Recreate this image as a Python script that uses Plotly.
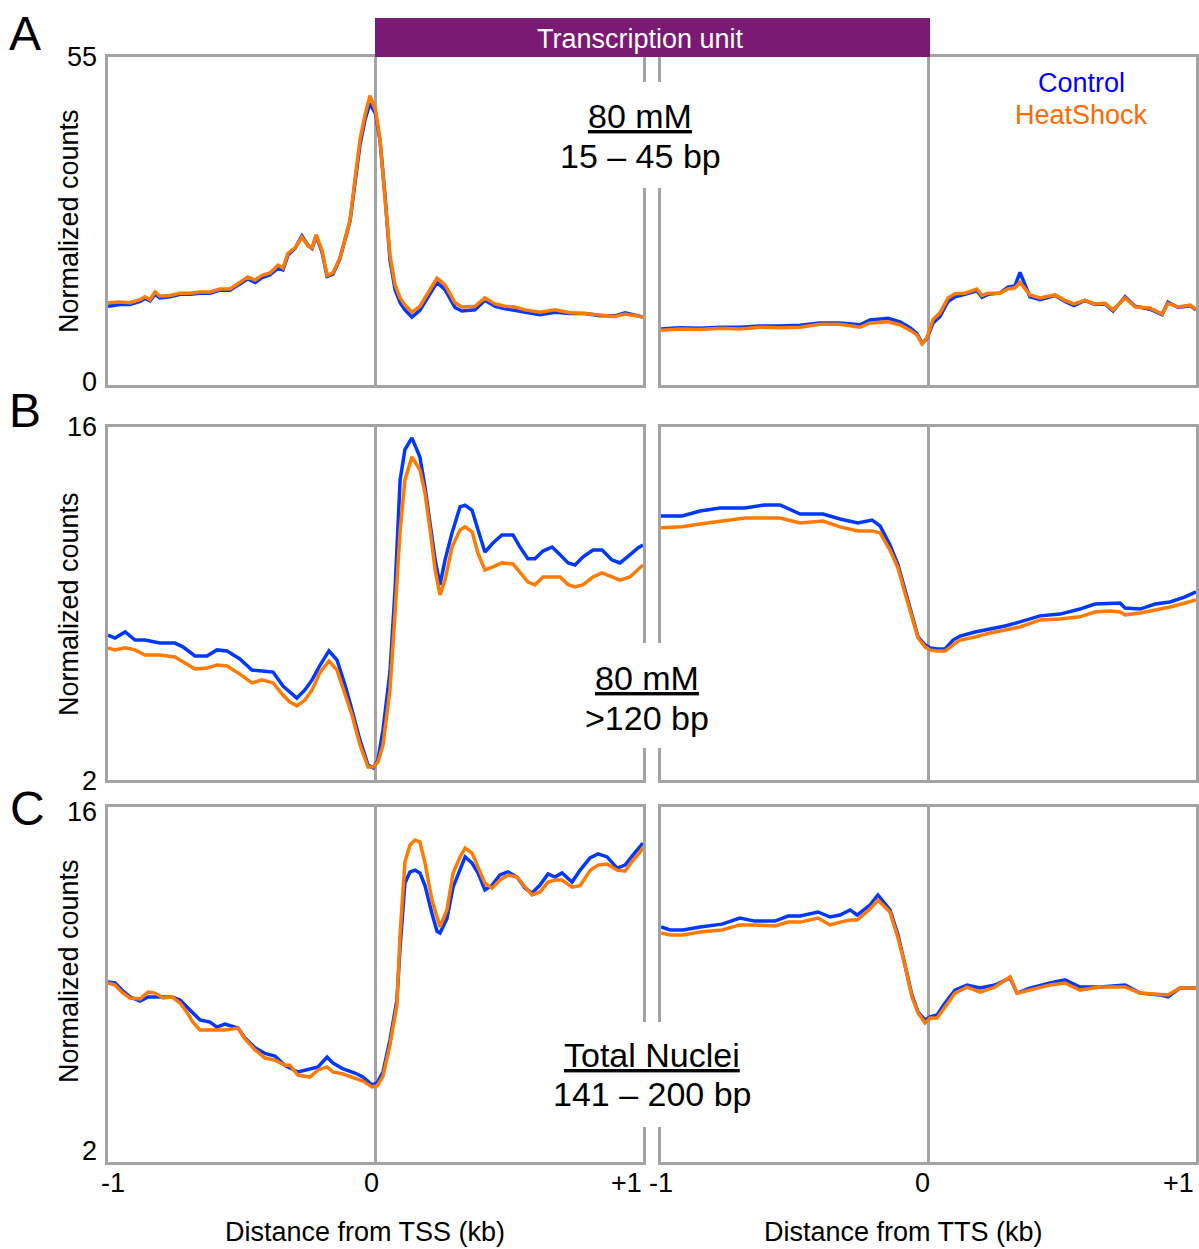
import plotly.graph_objects as go

# ---------------- data (kb from TSS/TTS, normalized counts) ----------------
x_A_tss = [-1.0, -0.955, -0.918, -0.88, -0.862, -0.843, -0.824, -0.806, -0.768, -0.73,
           -0.693, -0.656, -0.619, -0.581, -0.544, -0.507, -0.477, -0.45, -0.424, -0.394,
           -0.364, -0.346, -0.327, -0.301, -0.275, -0.252, -0.237, -0.222, -0.2, -0.181,
           -0.159, -0.133, -0.114, -0.095, -0.077, -0.058, -0.039, -0.021, 0.0, 0.017,
           0.036, 0.054, 0.073, 0.092, 0.11, 0.136, 0.166, 0.204, 0.23, 0.26,
           0.297, 0.323, 0.372, 0.409, 0.447, 0.484, 0.521, 0.559, 0.615, 0.671,
           0.727, 0.783, 0.839, 0.895, 0.933, 1.0]
A_tss_control = [13.2, 13.5, 13.5, 14.0, 14.5, 14.1, 15.2, 14.6, 14.8, 15.2,
                 15.2, 15.4, 15.4, 15.9, 15.9, 17.0, 17.8, 17.2, 18.0, 18.5,
                 19.6, 19.3, 21.8, 22.9, 25.0, 23.4, 22.9, 25.0, 22.3, 18.2,
                 18.6, 21.2, 24.2, 27.5, 33.8, 40.3, 44.5, 47.2, 45.5, 41.0,
                 31.5, 21.0, 16.0, 13.8, 12.6, 11.4, 12.5, 15.2, 17.2, 16.0,
                 13.0, 12.4, 12.6, 14.2, 13.2, 12.8, 12.5, 12.2, 11.8, 12.2,
                 12.0, 12.0, 11.6, 11.6, 12.1, 11.4]
A_tss_heat = [13.8, 13.9, 13.8, 14.3, 14.8, 14.3, 15.6, 14.9, 15.0, 15.4,
              15.4, 15.6, 15.6, 16.1, 16.1, 17.3, 18.1, 17.6, 18.4, 18.8,
              20.1, 19.6, 22.1, 23.0, 24.8, 23.3, 23.0, 25.2, 22.6, 18.4,
              18.8, 21.3, 24.3, 27.7, 34.4, 41.1, 45.3, 48.5, 46.1, 41.1,
              31.0, 21.8, 16.8, 14.6, 13.4, 12.2, 13.2, 15.9, 17.9, 16.8,
              13.8, 13.1, 13.2, 14.6, 13.6, 13.2, 13.1, 12.6, 12.2, 12.6,
              12.1, 12.0, 11.7, 11.5, 11.9, 11.4]

x_A_tts = [-1.0, -0.929, -0.854, -0.779, -0.705, -0.63, -0.555, -0.48, -0.406, -0.331,
           -0.256, -0.219, -0.151, -0.107, -0.069, -0.043, -0.024, -0.006, 0.017, 0.043,
           0.073, 0.099, 0.136, 0.181, 0.2, 0.222, 0.267, 0.297, 0.323, 0.342,
           0.379, 0.417, 0.473, 0.51, 0.544, 0.585, 0.622, 0.66, 0.69, 0.735,
           0.772, 0.828, 0.873, 0.895, 0.933, 0.978, 1.0]
A_tts_control = [9.4, 9.6, 9.5, 9.7, 9.7, 9.9, 9.9, 10.0, 10.4, 10.4,
                 10.1, 10.9, 11.2, 10.6, 9.6, 8.6, 7.0, 7.8, 10.4, 11.5,
                 14.0, 14.8, 15.2, 15.8, 14.7, 15.2, 15.4, 16.4, 16.6, 18.9,
                 14.8, 14.3, 15.0, 14.0, 13.3, 14.2, 13.5, 13.6, 12.4, 14.8,
                 13.2, 12.7, 11.8, 13.9, 13.0, 13.3, 12.6]
A_tts_heat = [9.2, 9.4, 9.3, 9.5, 9.4, 9.7, 9.6, 9.7, 10.2, 10.2,
              9.7, 10.4, 10.6, 10.1, 9.2, 8.4, 6.9, 7.9, 11.0, 12.1,
              14.6, 15.3, 15.4, 16.1, 15.0, 15.4, 15.4, 16.1, 16.3, 17.2,
              15.1, 14.6, 15.1, 14.2, 13.6, 14.2, 13.6, 13.7, 12.6, 14.6,
              13.1, 12.9, 11.9, 13.7, 13.1, 13.4, 12.7]

x_B_tss = [-1.0, -0.974, -0.936, -0.899, -0.862, -0.806, -0.75, -0.72, -0.675, -0.63,
           -0.593, -0.555, -0.507, -0.462, -0.424, -0.383, -0.346, -0.32, -0.294, -0.264,
           -0.237, -0.207, -0.174, -0.144, -0.114, -0.088, -0.058, -0.028, -0.009, 0.009,
           0.028, 0.054, 0.073, 0.092, 0.11, 0.136, 0.166, 0.185, 0.204, 0.223,
           0.241, 0.26, 0.286, 0.316, 0.335, 0.361, 0.383, 0.409, 0.439, 0.473,
           0.514, 0.54, 0.57, 0.596, 0.626, 0.66, 0.69, 0.72, 0.746, 0.776,
           0.813, 0.847, 0.884, 0.914, 0.951, 0.981, 1.0]
B_tss_control = [7.75, 7.63, 7.87, 7.55, 7.55, 7.43, 7.43, 7.28, 6.92, 6.92,
                 7.16, 7.12, 6.80, 6.36, 6.32, 6.28, 5.73, 5.49, 5.25, 5.57,
                 5.97, 6.56, 7.12, 6.76, 5.77, 4.78, 3.58, 2.60, 2.48, 2.79,
                 3.98, 6.28, 9.54, 13.9, 15.1, 15.57, 14.81, 13.62, 12.04, 10.73,
                 9.74, 10.73, 11.8, 12.83, 12.9, 12.7, 11.92, 11.04, 11.40, 11.72,
                 11.72, 11.24, 10.77, 10.77, 11.08, 11.24, 10.93, 10.61, 10.53, 10.85,
                 11.12, 11.12, 10.73, 10.61, 10.93, 11.20, 11.32]
B_tss_heat = [7.24, 7.16, 7.24, 7.16, 6.96, 6.96, 6.88, 6.68, 6.40, 6.44,
              6.56, 6.52, 6.20, 5.85, 5.97, 5.85, 5.37, 5.09, 4.94, 5.17,
              5.57, 6.28, 6.72, 6.36, 5.37, 4.58, 3.39, 2.52, 2.52, 2.71,
              3.39, 5.57, 8.6, 11.9, 13.9, 14.81, 14.30, 13.38, 11.92, 10.33,
              9.34, 9.93, 11.24, 11.92, 12.04, 11.84, 11.0, 10.33, 10.45, 10.61,
              10.57, 10.21, 9.85, 9.74, 10.05, 10.05, 10.05, 9.75, 9.66, 9.75,
              10.05, 10.21, 10.05, 9.93, 10.05, 10.33, 10.53]

x_B_tts = [-1.0, -0.921, -0.854, -0.779, -0.686, -0.611, -0.555, -0.48, -0.394, -0.331,
           -0.264, -0.211, -0.181, -0.144, -0.114, -0.088, -0.058, -0.039, -0.013, 0.006,
           0.032, 0.062, 0.092, 0.118, 0.174, 0.23, 0.286, 0.342, 0.417, 0.492,
           0.566, 0.622, 0.679, 0.716, 0.735, 0.791, 0.847, 0.903, 0.959, 1.0]
B_tts_control = [12.47, 12.47, 12.67, 12.79, 12.79, 12.91, 12.91, 12.55, 12.55, 12.35,
                 12.19, 12.31, 12.08, 11.32, 10.53, 9.54, 8.35, 7.67, 7.36, 7.24,
                 7.20, 7.20, 7.55, 7.71, 7.87, 7.99, 8.11, 8.27, 8.51, 8.58,
                 8.78, 8.98, 9.02, 9.02, 8.82, 8.78, 8.98, 9.06, 9.26, 9.46]
B_tts_heat = [12.0, 12.04, 12.15, 12.27, 12.39, 12.39, 12.39, 12.19, 12.27, 12.04,
              11.88, 11.88, 11.80, 11.12, 10.41, 9.42, 8.27, 7.63, 7.28, 7.16,
              7.12, 7.12, 7.36, 7.55, 7.67, 7.83, 7.95, 8.07, 8.35, 8.39,
              8.47, 8.66, 8.70, 8.66, 8.55, 8.62, 8.74, 8.86, 9.02, 9.14]

x_C_tss = [-1.0, -0.974, -0.948, -0.918, -0.88, -0.85, -0.824, -0.794, -0.761, -0.731,
           -0.705, -0.682, -0.656, -0.619, -0.593, -0.563, -0.514, -0.488, -0.45, -0.413,
           -0.376, -0.338, -0.32, -0.29, -0.245, -0.215, -0.181, -0.159, -0.121, -0.077,
           -0.047, -0.013, 0.006, 0.028, 0.054, 0.080, 0.092, 0.11, 0.129, 0.148,
           0.166, 0.185, 0.211, 0.23, 0.241, 0.267, 0.29, 0.316, 0.335, 0.361,
           0.383, 0.409, 0.436, 0.465, 0.495, 0.529, 0.559, 0.585, 0.615, 0.645,
           0.671, 0.697, 0.735, 0.765, 0.802, 0.832, 0.866, 0.903, 0.933, 0.963,
           0.989, 1.0]
C_tss_control = [9.10, 9.06, 8.78, 8.51, 8.35, 8.51, 8.51, 8.51, 8.51, 8.39,
                 8.10, 7.88, 7.60, 7.52, 7.32, 7.44, 7.28, 6.89, 6.50, 6.28,
                 6.18, 5.80, 5.71, 5.55, 5.67, 5.75, 6.14, 5.90, 5.67, 5.51,
                 5.35, 5.04, 5.12, 5.55, 6.81, 8.39, 10.48, 13.0, 13.44, 13.51,
                 13.40, 12.90, 11.80, 11.10, 11.03, 11.60, 12.84, 13.55, 14.03, 13.79,
                 13.40, 12.73, 12.92, 13.32, 13.44, 13.24, 12.80, 12.61, 12.92, 13.36,
                 13.24, 13.40, 13.04, 13.51, 13.99, 14.15, 14.03, 13.59, 13.71, 14.11,
                 14.42, 14.58]
C_tss_heat = [9.06, 8.98, 8.70, 8.47, 8.43, 8.70, 8.66, 8.47, 8.51, 8.27,
              7.91, 7.50, 7.21, 7.21, 7.21, 7.21, 7.28, 6.85, 6.42, 6.10,
              6.02, 5.82, 5.82, 5.43, 5.35, 5.63, 5.75, 5.55, 5.47, 5.31,
              5.19, 4.96, 5.00, 5.39, 6.61, 8.19, 11.0, 13.83, 14.50, 14.70,
              14.62, 13.79, 12.33, 11.66, 11.27, 11.94, 13.40, 14.03, 14.38, 14.18,
              13.63, 13.00, 12.80, 13.12, 13.32, 13.24, 12.84, 12.53, 12.65, 13.04,
              13.12, 13.12, 12.84, 12.90, 13.50, 13.71, 13.75, 13.51, 13.47, 13.91,
              14.22, 14.42]

x_C_tts = [-1.0, -0.966, -0.918, -0.854, -0.772, -0.705, -0.649, -0.574, -0.525, -0.48,
           -0.413, -0.368, -0.331, -0.293, -0.267, -0.219, -0.189, -0.144, -0.114, -0.088,
           -0.062, -0.039, -0.013, 0.006, 0.032, 0.062, 0.099, 0.144, 0.193, 0.249,
           0.305, 0.331, 0.379, 0.454, 0.51, 0.566, 0.641, 0.735, 0.791, 0.866,
           0.895, 0.940, 1.0]
C_tts_control = [11.27, 11.15, 11.15, 11.27, 11.38, 11.62, 11.50, 11.50, 11.70, 11.70,
                 11.86, 11.66, 11.74, 11.94, 11.74, 12.13, 12.53, 11.94, 10.95, 9.77,
                 8.59, 7.91, 7.60, 7.72, 7.80, 8.27, 8.78, 8.98, 8.86, 8.98,
                 9.26, 8.66, 8.86, 9.06, 9.18, 8.90, 8.90, 8.98, 8.66, 8.59,
                 8.51, 8.86, 8.86]
C_tts_heat = [11.03, 10.95, 10.95, 11.07, 11.15, 11.35, 11.35, 11.31, 11.46, 11.46,
              11.62, 11.35, 11.46, 11.54, 11.54, 11.98, 12.33, 11.86, 10.83, 9.77,
              8.51, 7.88, 7.48, 7.68, 7.68, 8.11, 8.66, 8.90, 8.70, 8.90,
              9.30, 8.66, 8.78, 8.98, 9.06, 8.78, 8.90, 8.90, 8.66, 8.59,
              8.59, 8.86, 8.86]

y_ranges = {"A": [0, 55], "B": [2, 16], "C": [2, 16]}
y_tick_labels = {"A": ["55", "0"], "B": ["16", "2"], "C": ["16", "2"]}
x_tick_labels = ["-1", "0", "+1"]
series_names = ["Control", "HeatShock"]
row_labels = {"A": ("80 mM", "15 – 45 bp"),
              "B": ("80 mM", "&gt;120 bp"),
              "C": ("Total Nuclei", "141 – 200 bp")}

# ---------------- styling ----------------
W, H = 1199, 1249
FONT = "Liberation Sans, Arial, sans-serif"
BLUE = "#0038FF"
ORANGE = "#FF7A00"
GRAY = "#A3A3A3"
PURPLE = "#7A1A73"


def px(x):
    return x / W


def py(y):
    return 1 - y / H


col_dom = {"L": [px(108), px(643)], "R": [px(661), px(1196)]}
row_dom = {"A": [py(385), py(57)], "B": [py(780), py(427)], "C": [py(1162), py(807)]}

panels = [
    ("A", "L", x_A_tss, A_tss_control, A_tss_heat),
    ("A", "R", x_A_tts, A_tts_control, A_tts_heat),
    ("B", "L", x_B_tss, B_tss_control, B_tss_heat),
    ("B", "R", x_B_tts, B_tts_control, B_tts_heat),
    ("C", "L", x_C_tss, C_tss_control, C_tss_heat),
    ("C", "R", x_C_tts, C_tts_control, C_tts_heat),
]

fig = go.Figure()
layout = {}
for i, (row, col, xs, ctrl, heat) in enumerate(panels, start=1):
    sfx = "" if i == 1 else str(i)
    xa, ya = "x" + sfx, "y" + sfx
    fig.add_trace(go.Scatter(x=xs, y=ctrl, mode="lines", name=series_names[0],
                             line=dict(color=BLUE, width=3.5), xaxis=xa, yaxis=ya,
                             showlegend=False, hoverinfo="skip"))
    fig.add_trace(go.Scatter(x=xs, y=heat, mode="lines", name=series_names[1],
                             line=dict(color=ORANGE, width=3.5), xaxis=xa, yaxis=ya,
                             showlegend=False, hoverinfo="skip"))
    layout["xaxis" + sfx] = dict(domain=col_dom[col], range=[-1, 1], anchor=ya,
                                 showline=True, mirror=True, linecolor=GRAY, linewidth=2.5,
                                 showticklabels=False, ticks="", showgrid=False,
                                 zeroline=True, zerolinecolor=GRAY, zerolinewidth=2.5,
                                 fixedrange=True)
    layout["yaxis" + sfx] = dict(domain=row_dom[row], range=y_ranges[row], anchor=xa,
                                 showline=True, mirror=True, linecolor=GRAY, linewidth=2.5,
                                 showticklabels=False, ticks="", showgrid=False,
                                 zeroline=False, fixedrange=True)

fig.update_layout(**layout)

ann = []


def text(x, y, s, size=27, color="black", **kw):
    d = dict(x=px(x), y=py(y), xref="paper", yref="paper", text=s, showarrow=False,
             font=dict(family=FONT, size=size, color=color), xanchor="center", yanchor="middle")
    d.update(kw)
    ann.append(d)


# panel letters
text(25, 33, "A", size=48)
text(25, 410, "B", size=48)
text(27, 808, "C", size=48)

# y tick labels
ytick_y = {"A": (57, 382), "B": (427, 781), "C": (812, 1151)}
for r in ["A", "B", "C"]:
    top, bot = ytick_y[r]
    text(99, top, y_tick_labels[r][0], xanchor="right")
    text(99, bot, y_tick_labels[r][1], xanchor="right")

# y axis titles
for yc in [221, 604, 971]:
    text(69, yc, "Normalized counts", textangle=-90)

# x tick labels
for xc, lab in zip([113, 371.5, 626], x_tick_labels):
    text(xc, 1183, lab)
for xc, lab in zip([661, 922, 1178], x_tick_labels):
    text(xc, 1183, lab)

# x axis titles
text(365, 1232, "Distance from TSS (kb)")
text(903, 1232, "Distance from TTS (kb)")

# transcription unit bar
fig.add_shape(type="rect", xref="paper", yref="paper", x0=px(375), x1=px(930),
              y0=py(57), y1=py(18), fillcolor=PURPLE, line=dict(width=0), layer="above")
text(640, 39, "Transcription unit", color="white")

# legend text
text(1081, 83, "Control", color="#0000FF")
text(1081, 115, "HeatShock", color="#FF6A00")

# white gaps in the frame lines behind the centre labels
gaps = {"A": (82, 188), "B": (643, 748), "C": (1022, 1127)}
for r in ["A", "B", "C"]:
    g0, g1 = gaps[r]
    fig.add_shape(type="rect", xref="paper", yref="paper", x0=px(636), x1=px(668),
                  y0=py(g1), y1=py(g0), fillcolor="white", line=dict(width=0), layer="above")

# centre labels
centre = {"A": (640, 116, 156), "B": (647, 678, 718), "C": (652, 1055, 1094)}
for r in ["A", "B", "C"]:
    xc, y1, y2 = centre[r]
    l1, l2 = row_labels[r]
    text(xc, y1, "<u>" + l1 + "</u>", size=34)
    text(xc, y2, l2, size=34)

fig.update_layout(
    width=W, height=H, margin=dict(l=0, r=0, t=0, b=0),
    paper_bgcolor="white", plot_bgcolor="white",
    annotations=ann, showlegend=False,
    font=dict(family=FONT),
)

fig.write_html("out.html", config={"displayModeBar": False})
